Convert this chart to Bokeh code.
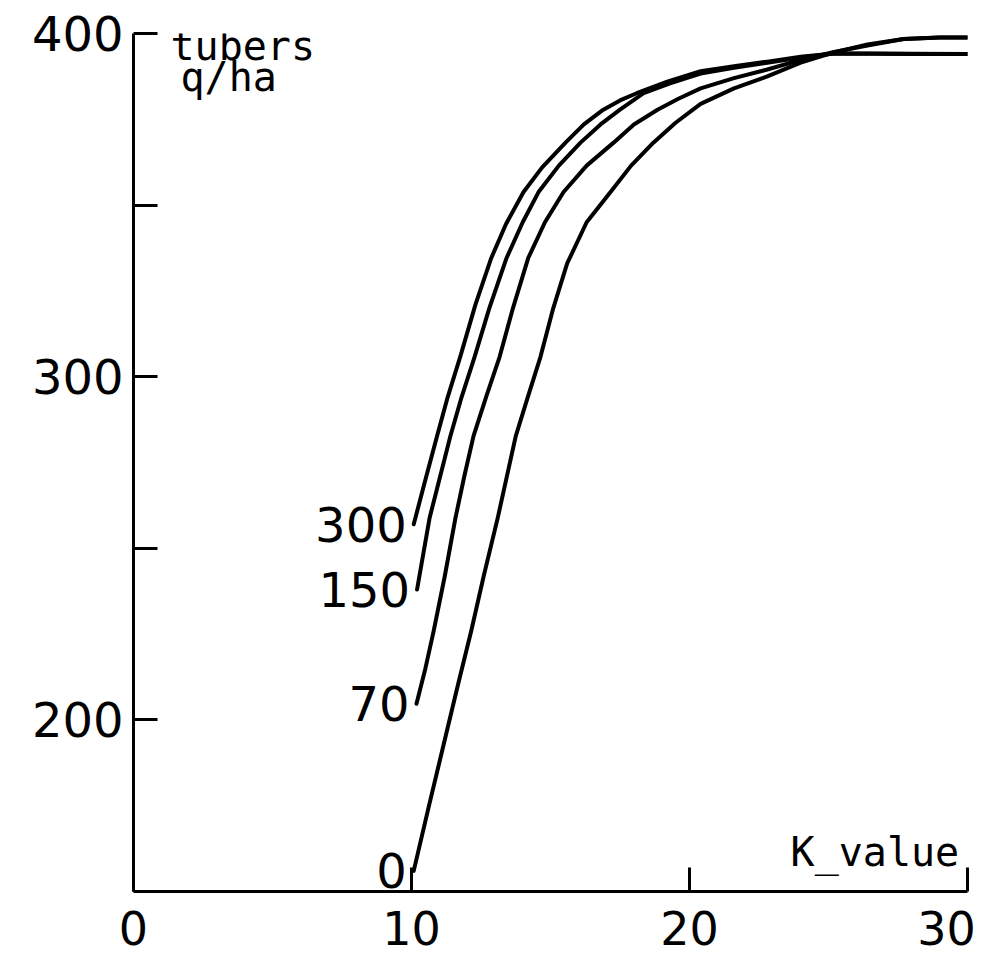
from bokeh.plotting import figure
from bokeh.models import Range1d, FixedTicker, Label, ColumnDataSource
from bokeh.core.properties import value
from bokeh.embed import file_html
from bokeh.resources import INLINE

# ---- data ----
n_levels = ["300", "150", "70", "0"]

n300_x = [10.08, 10.5, 10.92, 11.3, 11.76, 12.3, 12.87, 13.4, 14.03, 14.7, 15.54, 16.2, 16.9,
          17.5, 18.1, 19.2, 20.4, 21.6, 22.8, 24.0, 25.2, 26.5, 28.0, 30.0]
n300_y = [257, 270, 282.7, 294, 306, 321, 334.6, 344.5, 353.8, 361, 368.2, 373.5, 377.8,
          380.5, 382.6, 386, 389, 390.5, 391.8, 393.2, 394.2, 394.1, 394.0, 394.0]

n150_x = [10.2, 10.65, 11.0, 11.4, 11.8, 12.27, 12.8, 13.42, 14.0, 14.57, 15.3, 16.08, 16.8,
          17.5, 18.35, 19.3, 20.4, 21.6, 22.8, 24.0, 25.2, 26.5, 28.0, 30.0]
n150_y = [238, 258.8, 270, 282.7, 294, 305.8, 320, 334.6, 345, 353.8, 361.5, 368.2, 373.5,
          377.8, 382.6, 385.5, 388.3, 390, 391.5, 393, 394.2, 394.2, 394.1, 394.0]

n70_x = [10.18, 10.5, 10.8, 11.2, 11.58, 11.9, 12.23, 12.7, 13.17, 13.65, 14.2, 14.8, 15.47,
         16.3, 17.27, 18.0, 18.85, 19.6, 20.4, 21.6, 22.8, 24.0, 25.2, 26.4, 27.7, 29.0, 30.0]
n70_y = [204.7, 215, 226, 242, 258.8, 271, 282.7, 294.5, 305.8, 320, 334.6, 345, 353.8,
         361.5, 368.2, 373.5, 377.8, 381, 384.0, 387, 389.5, 392.3, 394.6, 396.5, 398.4, 398.8, 398.8]

n0_x = [10.08, 10.6, 11.15, 11.65, 12.15, 12.6, 13.1, 13.75, 14.2, 14.64, 15.1, 15.6, 16.3,
        17.16, 17.9, 18.7, 19.5, 20.4, 21.6, 22.8, 24.0, 25.2, 26.4, 27.7, 29.0, 30.0]
n0_y = [156, 174, 192.6, 209.5, 226, 242, 258.8, 282.7, 294.5, 305.8, 320, 333, 345,
        353.8, 361.5, 368.2, 374, 379.5, 384, 387.5, 391.5, 394.5, 396.8, 398.4, 398.8, 398.8]

x_ticks = [0, 10, 20, 30]
y_ticks = [200, 250, 300, 350, 400]
y_labelled = [200, 300, 400]

series_x = [n300_x, n150_x, n70_x, n0_x]
series_y = [n300_y, n150_y, n70_y, n0_y]

# ---- figure ----
W, H = 990, 958
p = figure(width=W, height=H, x_range=Range1d(0, 30), y_range=Range1d(150, 400),
           output_backend="svg", toolbar_location=None,
           min_border_left=133, min_border_right=W - 967, min_border_top=33, min_border_bottom=H - 901)
p.outline_line_color = None
p.xgrid.visible = False
p.ygrid.visible = False
p.background_fill_color = "white"
p.border_fill_color = "white"

num_font = "DejaVu Sans"
word_font = "DejaVu Sans Mono"

for ax in (p.xaxis[0], p.yaxis[0]):
    ax.axis_line_color = "black"
    ax.axis_line_width = 3
    ax.major_tick_line_color = "black"
    ax.major_tick_line_width = 3
    ax.major_tick_in = 24
    ax.major_tick_out = 0
    ax.minor_tick_line_color = None
    ax.major_label_text_font = num_font
    ax.major_label_text_color = "black"

p.xaxis[0].ticker = FixedTicker(ticks=x_ticks)
p.xaxis[0].major_label_text_font_size = "46px"
p.xaxis[0].major_label_text_line_height = 0.8
p.xaxis[0].major_label_standoff = 10
p.xaxis[0].major_label_overrides = {30: "30\u00a0"}

p.yaxis[0].ticker = FixedTicker(ticks=y_ticks)
p.yaxis[0].major_label_text_font_size = "48px"
p.yaxis[0].major_label_standoff = 10
p.yaxis[0].major_label_overrides = {t: ("" if t not in y_labelled else str(t)) for t in y_ticks}

# ---- curves ----
for xs, ys in zip(series_x, series_y):
    p.line(xs, ys, line_color="black", line_width=4, line_cap="round", line_join="round")

# ---- curve labels at the start of each curve ----
lab_src = ColumnDataSource(dict(x=[xs[0] for xs in series_x],
                                y=[ys[0] for ys in series_y],
                                t=n_levels))
p.text(x="x", y="y", text="t", source=lab_src, x_offset=-7, text_align="right",
       text_baseline="middle", text_font=value(num_font), text_font_size="48px",
       text_color="black")

# ---- axis titles placed like the reference ----
p.add_layout(Label(x=1.33, y=396.4, text="tubers", text_font=word_font,
                   text_font_size="40px", text_color="black", text_baseline="alphabetic"))
p.add_layout(Label(x=1.69, y=387.2, text="q/ha", text_font=word_font,
                   text_font_size="40px", text_color="black", text_baseline="alphabetic"))
p.add_layout(Label(x=29.7, y=161.5, text="K_value", text_font=word_font,
                   text_font_size="40px", text_color="black", text_align="right",
                   text_baseline="alphabetic"))

open("out.html", "w").write(file_html(p, INLINE))
